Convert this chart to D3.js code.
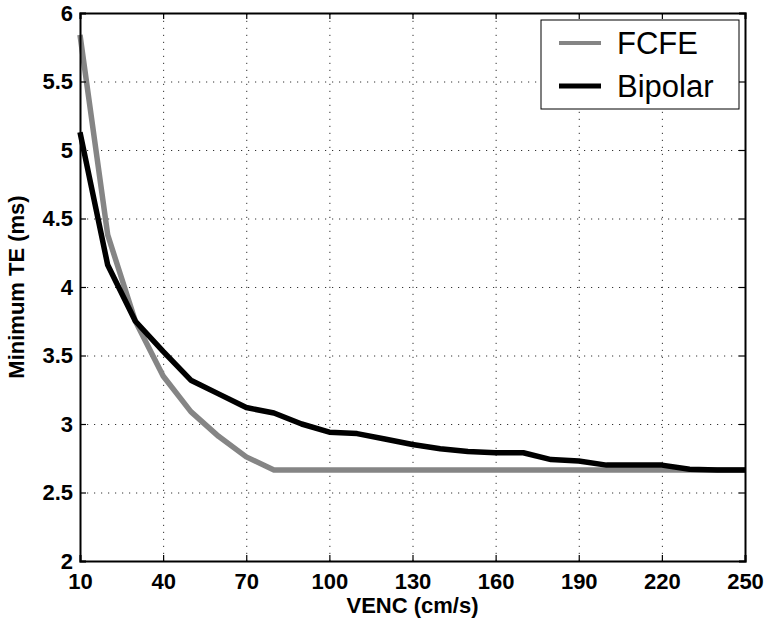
<!DOCTYPE html>
<html>
<head>
<meta charset="utf-8">
<script src="https://cdn.jsdelivr.net/npm/d3@7"></script>
<style>
  html, body { margin: 0; padding: 0; background: #fff; overflow: hidden; }
  svg { display: block; }
  svg text { font-family: "Liberation Sans", Arial, Helvetica, sans-serif; }
</style>
</head>
<body>
<div id="chart-area"></div>
<script>
var venc = [10, 20, 30, 40, 50, 60, 70, 80, 90, 100, 110, 120, 130, 140, 150, 160, 170, 180, 190, 200, 210, 220, 230, 240, 250];
var fcfe = [5.84, 4.38, 3.75, 3.35, 3.09, 2.91, 2.76, 2.665, 2.665, 2.665, 2.665, 2.665, 2.665, 2.665, 2.665, 2.665, 2.665, 2.665, 2.665, 2.665, 2.665, 2.665, 2.665, 2.665, 2.665];
var bipolar = [5.13, 4.16, 3.75, 3.53, 3.32, 3.22, 3.12, 3.08, 3.00, 2.94, 2.93, 2.89, 2.85, 2.82, 2.80, 2.79, 2.79, 2.74, 2.73, 2.70, 2.70, 2.70, 2.67, 2.665, 2.665];
var xTicks = [10, 40, 70, 100, 130, 160, 190, 220, 250];
var yTicks = [2, 2.5, 3, 3.5, 4, 4.5, 5, 5.5, 6];
var seriesNames = ["FCFE", "Bipolar"];
var seriesColors = ["#858585", "#000000"];

var width = 768;
var height = 619;
var margin = { top: 13, right: 23, bottom: 58, left: 80 };
var innerWidth = width - margin.left - margin.right;
var innerHeight = height - margin.top - margin.bottom;

var svg = d3.select("#chart-area")
    .append("svg")
    .attr("width", width)
    .attr("height", height);

var g = svg.append("g")
    .attr("transform", `translate(${margin.left}, ${margin.top})`);

var x = d3.scaleLinear().domain([10, 250]).range([0, innerWidth]);
var y = d3.scaleLinear().domain([2, 6]).range([innerHeight, 0]);

// dotted grid
g.append("g")
    .attr("class", "grid")
    .attr("transform", `translate(0, ${innerHeight})`)
    .call(d3.axisBottom(x).tickValues(xTicks.slice(1, -1)).tickSize(-innerHeight).tickFormat(""));
g.append("g")
    .attr("class", "grid")
    .call(d3.axisLeft(y).tickValues(yTicks.slice(1, -1)).tickSize(-innerWidth).tickFormat(""));
g.selectAll(".grid .domain").remove();
g.selectAll(".grid line")
    .attr("stroke", "#333")
    .attr("stroke-width", 1)
    .attr("stroke-dasharray", "1.2,5.8");

// lines
var line = d3.line()
    .x((d, i) => x(venc[i]))
    .y(d => y(d));

var allSeries = [fcfe, bipolar];
g.selectAll(".series")
    .data(allSeries)
    .enter()
    .append("path")
    .attr("class", "series")
    .attr("d", d => line(d))
    .attr("fill", "none")
    .attr("stroke", (d, i) => seriesColors[i])
    .attr("stroke-width", 5.5)
    .attr("stroke-linejoin", "round");

// axes (box with inward ticks)
var xAxis = d3.axisBottom(x).tickValues(xTicks).tickSize(-6).tickPadding(12).tickFormat(d3.format("d"));
var yAxis = d3.axisLeft(y).tickValues(yTicks).tickSize(-6).tickPadding(7).tickFormat(d => d);

var xg = g.append("g")
    .attr("transform", `translate(0, ${innerHeight})`)
    .call(xAxis);
var yg = g.append("g").call(yAxis);
g.append("g").attr("class", "box").call(d3.axisTop(x).tickValues(xTicks).tickSize(-6).tickFormat(""));
g.append("g")
    .attr("class", "box")
    .attr("transform", `translate(${innerWidth}, 0)`)
    .call(d3.axisRight(y).tickValues(yTicks).tickSize(-6).tickFormat(""));

// drop the empty labels of grid and box axes
g.selectAll(".grid text, .box text").remove();

g.selectAll(".domain").attr("stroke", "#000").attr("stroke-width", 2);
g.selectAll(".tick line").filter(function () { return !this.parentNode.parentNode.classList.contains("grid"); })
    .attr("stroke", "#000").attr("stroke-width", 1.2);

xg.selectAll("text")
    .attr("font-size", "22px")
    .attr("font-weight", "bold")
    .attr("fill", "#000");
yg.selectAll("text")
    .attr("font-size", "22px")
    .attr("font-weight", "bold")
    .attr("fill", "#000");

// axis labels
g.append("text")
    .attr("x", innerWidth / 2)
    .attr("y", innerHeight + 52)
    .attr("text-anchor", "middle")
    .attr("font-size", "22px")
    .attr("font-weight", "bold")
    .text("VENC (cm/s)");

g.append("text")
    .attr("x", -innerHeight / 2)
    .attr("y", -56)
    .attr("text-anchor", "middle")
    .attr("font-size", "22px")
    .attr("font-weight", "bold")
    .attr("transform", "rotate(-90)")
    .text("Minimum TE (ms)");

// legend
var legend = svg.append("g").attr("transform", "translate(541, 20)");
legend.append("rect")
    .attr("width", 198)
    .attr("height", 89)
    .attr("fill", "#fff")
    .attr("stroke", "#000")
    .attr("stroke-width", 1);

var items = legend.selectAll(".item")
    .data(seriesNames)
    .enter()
    .append("g")
    .attr("class", "item")
    .attr("transform", (d, i) => `translate(0, ${23 + i * 43})`);
items.append("line")
    .attr("x1", 18).attr("x2", 60)
    .attr("stroke", (d, i) => seriesColors[i])
    .attr("stroke-width", (d, i) => i === 0 ? 4 : 5);
items.append("text")
    .attr("x", 76)
    .attr("y", 11)
    .attr("font-size", "31px")
    .text(d => d);
</script>
</body>
</html>
